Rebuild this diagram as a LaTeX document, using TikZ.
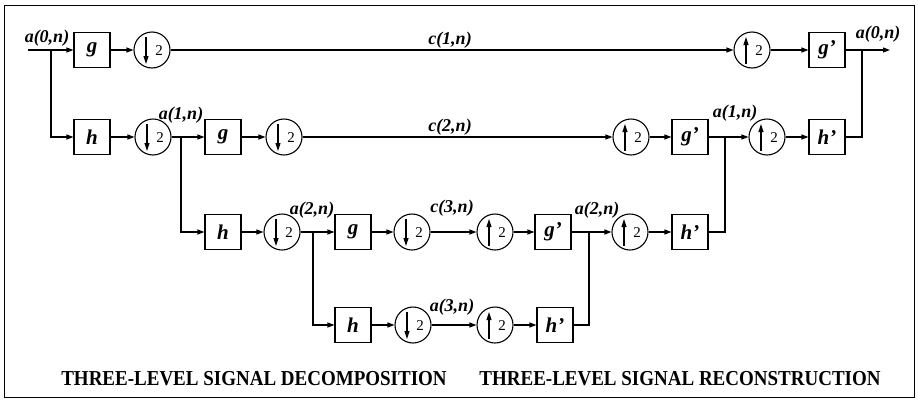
\documentclass[tikz,border=0pt]{standalone}
\usepackage{fontspec}
\setmainfont{Liberation Serif}
\usetikzlibrary{arrows.meta}
\tikzset{
  blk/.style={draw, line width=1.1pt, minimum width=36pt, minimum height=35pt, inner sep=0pt,
    font=\fontsize{21}{21}\selectfont\bfseries\itshape},
  dnc/.style={circle, draw, line width=1.1pt, minimum size=36pt, inner sep=0pt,
    path picture={
      \draw[line width=1.1pt,-{Triangle[length=8pt,width=5pt]}]
        ([shift={(-6,-13)}]path picture bounding box.center) -- ([shift={(-6,14)}]path picture bounding box.center);
      \node[inner sep=0pt,font=\fontsize{15}{15}\selectfont] at ([shift={(7,1)}]path picture bounding box.center) {2};
    }},
  upc/.style={circle, draw, line width=1.1pt, minimum size=36pt, inner sep=0pt,
    path picture={
      \draw[line width=1.1pt,-{Triangle[length=8pt,width=5pt]}]
        ([shift={(-6,14)}]path picture bounding box.center) -- ([shift={(-6,-13)}]path picture bounding box.center);
      \node[inner sep=0pt,font=\fontsize{15}{15}\selectfont] at ([shift={(7,1)}]path picture bounding box.center) {2};
    }},
  lbl/.style={inner sep=0pt, font=\fontsize{18}{18}\selectfont\bfseries\itshape},
  ttl/.style={inner sep=0pt, yscale=1.12, font=\fontsize{19}{19}\selectfont\bfseries},
  arr/.style={-{Triangle[length=7pt,width=5pt]}},
  wire/.style={line width=1.1pt}
}
\begin{document}
\begin{tikzpicture}[x=1pt,y=-1pt]
\useasboundingbox (0,0) rectangle (918,402);
\draw[line width=0.9pt] (4,5) rectangle (914,397);

% row 1
\coordinate (in) at (28,50);
\coordinate (b0) at (51,50);
\node[blk] (g1) at (92,50) {g};
\node[dnc] (d1) at (152,50) {};
\node[upc] (u1) at (752,50) {};
\node[blk] (gp1) at (827,50) {g’};
\coordinate (j0) at (862,50);
\coordinate (out) at (890,50);

% row 2
\node[blk] (h1) at (92,137) {h};
\node[dnc] (d2) at (153,137) {};
\coordinate (b1) at (181,137);
\node[blk] (g2) at (223,137) {g};
\node[dnc] (d3) at (284,137) {};
\node[upc] (u2) at (631,137) {};
\node[blk] (gp2) at (690,137) {g’};
\coordinate (j1) at (725,137);
\node[upc] (u3) at (767,137) {};
\node[blk] (hp1) at (827,137) {h’};

% row 3
\node[blk] (h2) at (223,232) {h};
\node[dnc] (d4) at (282,232) {};
\coordinate (b2) at (313,232);
\node[blk] (g3) at (353,232) {g};
\node[dnc] (d5) at (412,232) {};
\node[upc] (u4) at (495,232) {};
\node[blk] (gp3) at (553,232) {g’};
\coordinate (j2) at (589,232);
\node[upc] (u5) at (630,232) {};
\node[blk] (hp2) at (690,232) {h’};

% row 4
\node[blk] (h3) at (353,325) {h};
\node[dnc] (d6) at (413,325) {};
\node[upc] (u6) at (495,325) {};
\node[blk] (hp3) at (555,325) {h’};

% connectors
\begin{scope}[wire]
\draw (in) -- (b0);
\draw[arr] (b0) -- (g1);
\draw[arr] (g1) -- (d1);
\draw[arr] (d1) -- (u1);
\draw[arr] (u1) -- (gp1);
\draw (gp1) -- (j0);
\draw[arr] (j0) -- (out);
\draw[arr] (b0) |- (h1);

\draw[arr] (h1) -- (d2);
\draw (d2) -- (b1);
\draw[arr] (b1) -- (g2);
\draw[arr] (g2) -- (d3);
\draw[arr] (d3) -- (u2);
\draw[arr] (u2) -- (gp2);
\draw (gp2) -- (j1);
\draw[arr] (j1) -- (u3);
\draw[arr] (u3) -- (hp1);
\draw (hp1.east) -| (j0);
\draw[arr] (b1) |- (h2);

\draw[arr] (h2) -- (d4);
\draw (d4) -- (b2);
\draw[arr] (b2) -- (g3);
\draw[arr] (g3) -- (d5);
\draw[arr] (d5) -- (u4);
\draw[arr] (u4) -- (gp3);
\draw (gp3) -- (j2);
\draw[arr] (j2) -- (u5);
\draw[arr] (u5) -- (hp2);
\draw (hp2.east) -| (j1);
\draw[arr] (b2) |- (h3);

\draw[arr] (h3) -- (d6);
\draw[arr] (d6) -- (u6);
\draw[arr] (u6) -- (hp3);
\draw (hp3.east) -| (j2);
\end{scope}

% labels
\node[lbl] (la0) at (47,38) {a(0,n)};
\node[lbl] (lc1) at (450,40) {c(1,n)};
\node[lbl] (la0o) at (878,34) {a(0,n)};
\node[lbl] (la1) at (181,115) {a(1,n)};
\node[lbl] (lc2) at (450,127) {c(2,n)};
\node[lbl] (la1r) at (735,113) {a(1,n)};
\node[lbl] (la2) at (312,210) {a(2,n)};
\node[lbl] (lc3) at (452,208) {c(3,n)};
\node[lbl] (la2r) at (597,210) {a(2,n)};
\node[lbl] (la3) at (452,307) {a(3,n)};

\node[ttl] (t1) at (254,379) {THREE-LEVEL SIGNAL DECOMPOSITION};
\node[ttl] (t2) at (680,379) {THREE-LEVEL SIGNAL RECONSTRUCTION};
\end{tikzpicture}
\end{document}
